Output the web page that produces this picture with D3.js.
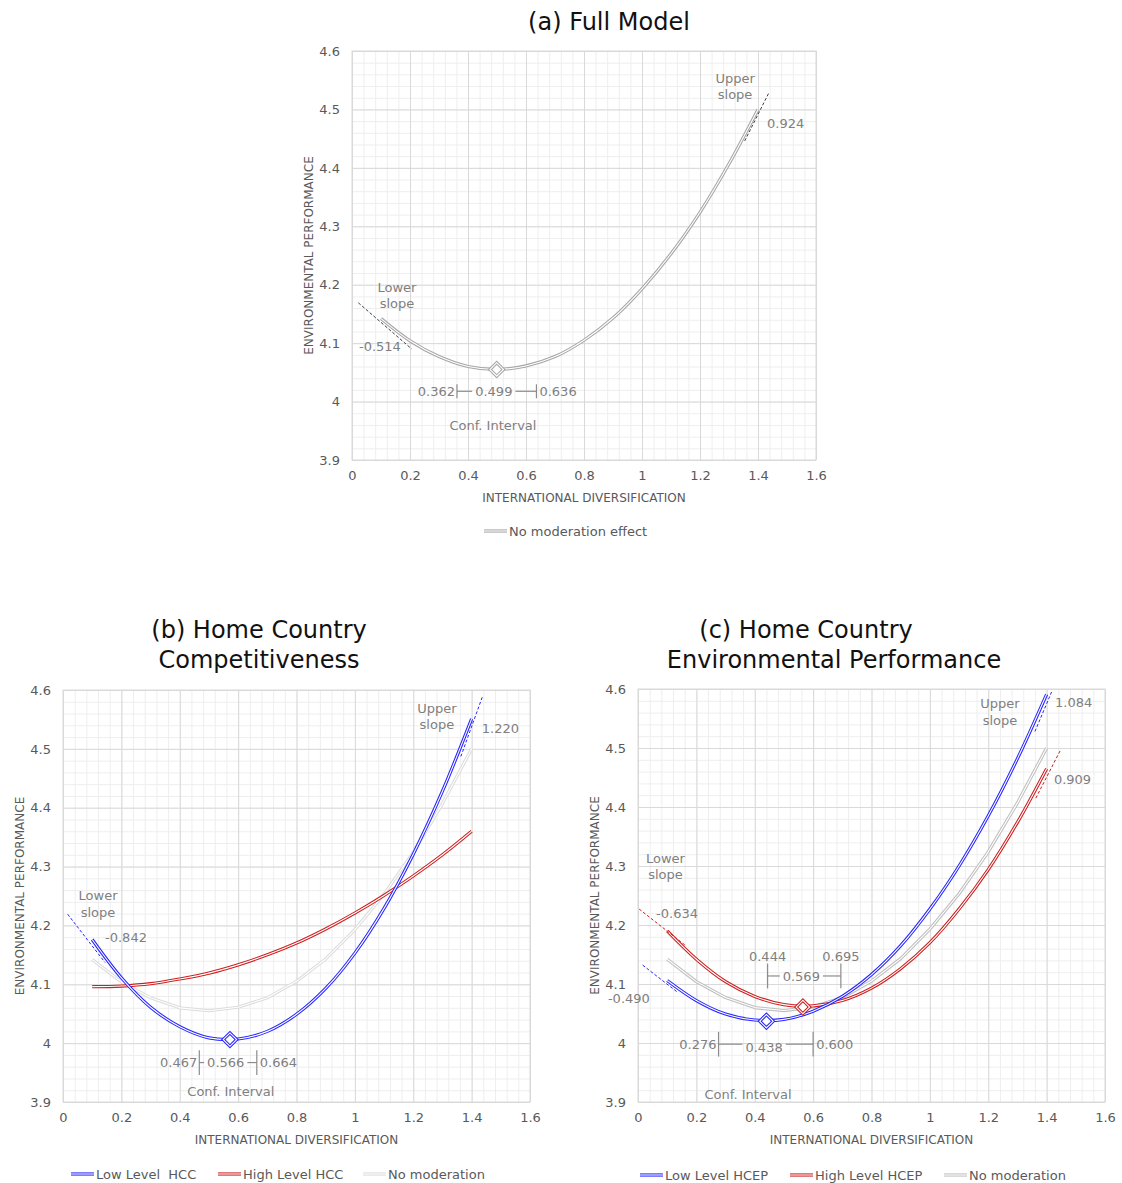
<!DOCTYPE html>
<html lang="en">
<head>
<meta charset="UTF-8">
<title>Moderation of the U-shaped relationship</title>
<script src="https://cdn.jsdelivr.net/npm/d3@7"></script>
<style>
  body { margin: 0; background: #fff; }
  text { font-family: "DejaVu Sans", sans-serif; }
</style>
</head>
<body>
<script>
// ---- data ----
const xValues = [0.1, 0.2, 0.3, 0.4, 0.5, 0.6, 0.7, 0.8, 0.9, 1.0, 1.1, 1.2, 1.3, 1.4];
const xTickValues = [0, 0.2, 0.4, 0.6, 0.8, 1, 1.2, 1.4, 1.6];
const xTickLabels = ["0", "0.2", "0.4", "0.6", "0.8", "1", "1.2", "1.4", "1.6"];
const yTickValues = [3.9, 4, 4.1, 4.2, 4.3, 4.4, 4.5, 4.6];
const yTickLabels = ["3.9", "4", "4.1", "4.2", "4.3", "4.4", "4.5", "4.6"];

const noModeration = [4.142, 4.104, 4.077, 4.060, 4.055, 4.061, 4.077, 4.105, 4.143, 4.193, 4.253, 4.324, 4.407, 4.500];
const lowHCC   = [4.176, 4.111, 4.061, 4.028, 4.009, 4.007, 4.020, 4.049, 4.093, 4.153, 4.229, 4.321, 4.428, 4.551];
const highHCC  = [4.096, 4.097, 4.101, 4.109, 4.119, 4.133, 4.150, 4.170, 4.194, 4.221, 4.251, 4.284, 4.320, 4.360];
const lowHCEP  = [4.106, 4.072, 4.049, 4.039, 4.040, 4.054, 4.079, 4.116, 4.165, 4.227, 4.300, 4.385, 4.482, 4.591];
const highHCEP = [4.190, 4.142, 4.104, 4.079, 4.065, 4.063, 4.072, 4.093, 4.126, 4.170, 4.227, 4.294, 4.374, 4.465];

// turning points [x, y]
const tpFull = [0.499, 4.055];
const tpLowHCC = [0.572, 4.006];
const tpLowHCEP = [0.440, 4.037];
const tpHighHCEP = [0.565, 4.061];

// confidence intervals of the turning point [lower, point, upper]
const ciFull = [0.362, 0.499, 0.636];
const ciLowHCC = [0.467, 0.566, 0.664];
const ciLowHCEP = [0.276, 0.438, 0.600];
const ciHighHCEP = [0.444, 0.569, 0.695];

// simple slope tangents [[x1, y1], [x2, y2]] and their labels
const tanFullLow = [[0.022, 4.169], [0.206, 4.090]];
const tanFullUp = [[1.354, 4.446], [1.438, 4.529]];
const tanHCCLow = [[0.016, 4.219], [0.144, 4.137]];
const tanHCCUp = [[1.363, 4.487], [1.438, 4.590]];
const tanHCEPLowBlue = [[0.016, 4.132], [0.138, 4.085]];
const tanHCEPLowRed = [[0.004, 4.227], [0.161, 4.166]];
const tanHCEPUpBlue = [[1.360, 4.528], [1.417, 4.595]];
const tanHCEPUpRed = [[1.363, 4.415], [1.449, 4.498]];
const slopeLabelsFull = ["-0.514", "0.924"];
const slopeLabelsHCC = ["-0.842", "1.220"];
const slopeLabelsHCEP = ["-0.634", "-0.490", "1.084", "0.909"];

const BLUE = "#2626ff", RED = "#cc2020";
const TXT = "#595959", NOTE = "#808080";

const svg = d3.select("body").append("svg")
  .attr("width", 1122).attr("height", 1183);

// draws an Excel-like "double" line: coloured stroke with a white core
function doubleLine(g, d, color, w) {
  g.append("path").attr("d", d).attr("fill", "none")
    .attr("stroke", color).attr("stroke-width", w || 3.2).attr("stroke-linejoin", "round");
  g.append("path").attr("d", d).attr("fill", "none")
    .attr("stroke", "#fff").attr("stroke-width", 1.1).attr("stroke-linejoin", "round");
}

function panel(box) {
  const x = d3.scaleLinear().domain([0, 1.6]).range([box.left, box.right]);
  const y = d3.scaleLinear().domain([3.9, 4.6]).range([box.bottom, box.top]);
  const g = svg.append("g");
  const h = box.bottom - box.top, w = box.right - box.left;

  // minor gridlines
  g.append("g").attr("transform", `translate(0,${box.bottom})`)
    .call(d3.axisBottom(x).tickValues(d3.range(0.04, 1.6, 0.04)).tickSize(-h).tickFormat(""))
    .call(a => a.select(".domain").remove())
    .selectAll("line").attr("stroke", "#eeeeee");
  g.append("g").attr("transform", `translate(${box.left},0)`)
    .call(d3.axisLeft(y).tickValues(d3.range(3.92, 4.6, 0.02)).tickSize(-w).tickFormat(""))
    .call(a => a.select(".domain").remove())
    .selectAll("line").attr("stroke", "#eeeeee");
  // major gridlines + tick labels
  const xa = g.append("g").attr("transform", `translate(0,${box.bottom})`)
    .call(d3.axisBottom(x).tickValues(xTickValues).tickSize(-h).tickPadding(11)
      .tickFormat((d, i) => xTickLabels[i]));
  const ya = g.append("g").attr("transform", `translate(${box.left},0)`)
    .call(d3.axisLeft(y).tickValues(yTickValues).tickSize(-w).tickPadding(12)
      .tickFormat((d, i) => yTickLabels[i]));
  [xa, ya].forEach(a => {
    a.select(".domain").remove();
    a.selectAll("line").attr("stroke", "#d9d9d9");
    a.selectAll("text").attr("fill", TXT).attr("font-size", 13)
      .attr("font-family", "DejaVu Sans, sans-serif");
  });
  g.append("rect").attr("x", box.left).attr("y", box.top).attr("width", w).attr("height", h)
    .attr("fill", "none").attr("stroke", "#d9d9d9");

  // axis titles
  g.append("text").attr("x", (box.left + box.right) / 2).attr("y", box.bottom + 42)
    .attr("text-anchor", "middle").attr("font-size", 12).attr("fill", TXT)
    .attr("font-family", "DejaVu Sans Condensed, sans-serif")
    .text("INTERNATIONAL DIVERSIFICATION");
  g.append("text").attr("transform", `translate(${box.left - 39},${(box.top + box.bottom) / 2}) rotate(-90)`)
    .attr("text-anchor", "middle").attr("font-size", 12).attr("fill", TXT)
    .attr("font-family", "DejaVu Sans Condensed, sans-serif")
    .text("ENVIRONMENTAL PERFORMANCE");

  return { g, x, y };
}

function curve(p, values, color, smooth) {
  const line = d3.line().x((d, i) => p.x(xValues[i])).y(d => p.y(d))
    .curve(smooth ? d3.curveCatmullRom.alpha(0.5) : d3.curveLinear);
  doubleLine(p.g, line(values), color);
}

function tangent(p, seg, color) {
  p.g.append("line")
    .attr("x1", p.x(seg[0][0])).attr("y1", p.y(seg[0][1]))
    .attr("x2", p.x(seg[1][0])).attr("y2", p.y(seg[1][1]))
    .attr("stroke", color).attr("stroke-width", 1).attr("stroke-dasharray", "3,2");
}

function diamond(p, pt, color) {
  const s = d3.symbol().type(d3.symbolSquare).size(90);
  const t = `translate(${p.x(pt[0])},${p.y(pt[1])}) rotate(45)`;
  p.g.append("path").attr("d", s()).attr("transform", t)
    .attr("fill", "#fff").attr("stroke", color).attr("stroke-width", 3.2);
  p.g.append("path").attr("d", s()).attr("transform", t)
    .attr("fill", "none").attr("stroke", "#fff").attr("stroke-width", 1.1);
}

function note(p, xv, yv, str, anchor) {
  return p.g.append("text").attr("x", p.x(xv)).attr("y", p.y(yv)).attr("dy", "0.35em")
    .attr("text-anchor", anchor || "start").attr("font-size", 13).attr("fill", NOTE)
    .style("white-space", "pre").text(str);
}

// bracket "lo |— mid —| hi"; opts.labelsAbove puts lo/hi labels above the ticks
function ciBracket(p, ci, yv, half, opts) {
  const yl = p.y(yv), x0 = p.x(ci[0]), x1 = p.x(ci[2]);
  const ty = p.y(yv + half), by = p.y(yv - half);
  const g = p.g.append("g").attr("stroke", "#8c8c8c").attr("stroke-width", 1.2);
  g.append("line").attr("x1", x0).attr("x2", x0).attr("y1", ty).attr("y2", by);
  g.append("line").attr("x1", x1).attr("x2", x1).attr("y1", ty).attr("y2", by);
  const mid = note(p, (ci[0] + ci[2]) / 2 + (opts.midShift || 0), yv + (opts.midDy || 0), ci[1].toFixed(3), "middle");
  const bb = mid.node().getBBox();
  g.append("line").attr("x1", x0).attr("x2", Math.max(x0, bb.x - 3)).attr("y1", yl).attr("y2", yl);
  g.append("line").attr("x1", Math.min(x1, bb.x + bb.width + 3)).attr("x2", x1).attr("y1", yl).attr("y2", yl);
  if (opts.labelsAbove) {
    note(p, ci[0], yv + opts.labelsAbove, ci[0].toFixed(3), "middle");
    note(p, ci[2], yv + opts.labelsAbove, ci[2].toFixed(3), "middle");
  } else {
    note(p, ci[0], yv, ci[0].toFixed(3), "end").attr("dx", -2);
    note(p, ci[2], yv, ci[2].toFixed(3), "start").attr("dx", 3);
  }
}

function title(lines, cx, baseline) {
  lines.forEach((t, i) => {
    svg.append("text").attr("x", cx[i]).attr("y", baseline + i * 30)
      .attr("text-anchor", "middle").attr("font-size", 24).attr("fill", "#111").text(t);
  });
}

function legend(items, y0) {
  items.forEach(it => {
    const d = `M${it.x},${y0}H${it.x + 23}`;
    doubleLine(svg, d, it.color, 3.2);
    svg.append("text").attr("x", it.x + 25).attr("y", y0).attr("dy", "0.35em")
      .attr("font-size", 13).attr("fill", TXT).style("white-space", "pre")
      .attr("font-family", "DejaVu Sans Condensed, sans-serif").text(it.label);
  });
}

// ---------- (a) Full model ----------
title(["(a) Full Model"], [609], 30);
const pa = panel({ left: 352, right: 816, top: 51, bottom: 460 });
curve(pa, noModeration, "#a6a6a6", true);
tangent(pa, tanFullLow, "#404040");
tangent(pa, tanFullUp, "#404040");
diamond(pa, tpFull, "#a6a6a6");
ciBracket(pa, ciFull, 4.0176, 0.012, { midShift: -0.01 });
note(pa, 0.155, 4.195, "Lower", "middle");
note(pa, 0.155, 4.168, "slope", "middle");
note(pa, 0.024, 4.094, slopeLabelsFull[0]);
note(pa, 1.321, 4.553, "Upper", "middle");
note(pa, 1.321, 4.526, "slope", "middle");
note(pa, 1.431, 4.476, slopeLabelsFull[1]);
note(pa, 0.486, 3.959, "Conf. Interval", "middle");
legend([{ x: 484, color: "#a6a6a6", label: "No moderation effect" }], 531);

// ---------- (b) Home country competitiveness ----------
title(["(b) Home Country", "Competitiveness"], [259, 259], 638);
const pb = panel({ left: 63, right: 530, top: 690, bottom: 1102 });
curve(pb, noModeration, "#dcdcdc", false);
curve(pb, highHCC, RED, true);
curve(pb, lowHCC, BLUE, true);
tangent(pb, tanHCCLow, BLUE);
tangent(pb, tanHCCUp, BLUE);
diamond(pb, tpLowHCC, BLUE);
ciBracket(pb, ciLowHCC, 3.967, 0.021, { midShift: -0.008 });
note(pb, 0.12, 4.251, "Lower", "middle");
note(pb, 0.12, 4.222, "slope", "middle");
note(pb, 0.144, 4.18, slopeLabelsHCC[0]);
note(pb, 1.281, 4.569, "Upper", "middle");
note(pb, 1.281, 4.542, "slope", "middle");
note(pb, 1.435, 4.535, slopeLabelsHCC[1]);
note(pb, 0.575, 3.918, "Conf. Interval", "middle");
legend([
  { x: 71, color: BLUE, label: "Low Level  HCC" },
  { x: 218, color: RED, label: "High Level HCC" },
  { x: 363, color: "#dcdcdc", label: "No moderation" }
], 1174);

// ---------- (c) Home country environmental performance ----------
title(["(c) Home Country", "Environmental Performance"], [806, 834], 638);
const pc = panel({ left: 638, right: 1105, top: 689, bottom: 1102 });
curve(pc, noModeration, "#bfbfbf", false);
curve(pc, highHCEP, RED, true);
curve(pc, lowHCEP, BLUE, true);
tangent(pc, tanHCEPLowRed, RED);
tangent(pc, tanHCEPLowBlue, BLUE);
tangent(pc, tanHCEPUpBlue, BLUE);
tangent(pc, tanHCEPUpRed, RED);
diamond(pc, tpHighHCEP, RED);
diamond(pc, tpLowHCEP, BLUE);
ciBracket(pc, ciHighHCEP, 4.1136, 0.021, { labelsAbove: 0.033, midShift: -0.01 });
ciBracket(pc, ciLowHCEP, 3.998, 0.021, { midShift: -0.006, midDy: -0.005 });
note(pc, 0.094, 4.312, "Lower", "middle");
note(pc, 0.094, 4.285, "slope", "middle");
note(pc, 0.062, 4.219, slopeLabelsHCEP[0]);
note(pc, -0.103, 4.075, slopeLabelsHCEP[1]);
note(pc, 1.24, 4.575, "Upper", "middle");
note(pc, 1.24, 4.547, "slope", "middle");
note(pc, 1.429, 4.578, slopeLabelsHCEP[2]);
note(pc, 1.425, 4.447, slopeLabelsHCEP[3]);
note(pc, 0.377, 3.912, "Conf. Interval", "middle");
legend([
  { x: 640, color: BLUE, label: "Low Level HCEP" },
  { x: 790, color: RED, label: "High Level HCEP" },
  { x: 944, color: "#bfbfbf", label: "No moderation" }
], 1175);
</script>
</body>
</html>
